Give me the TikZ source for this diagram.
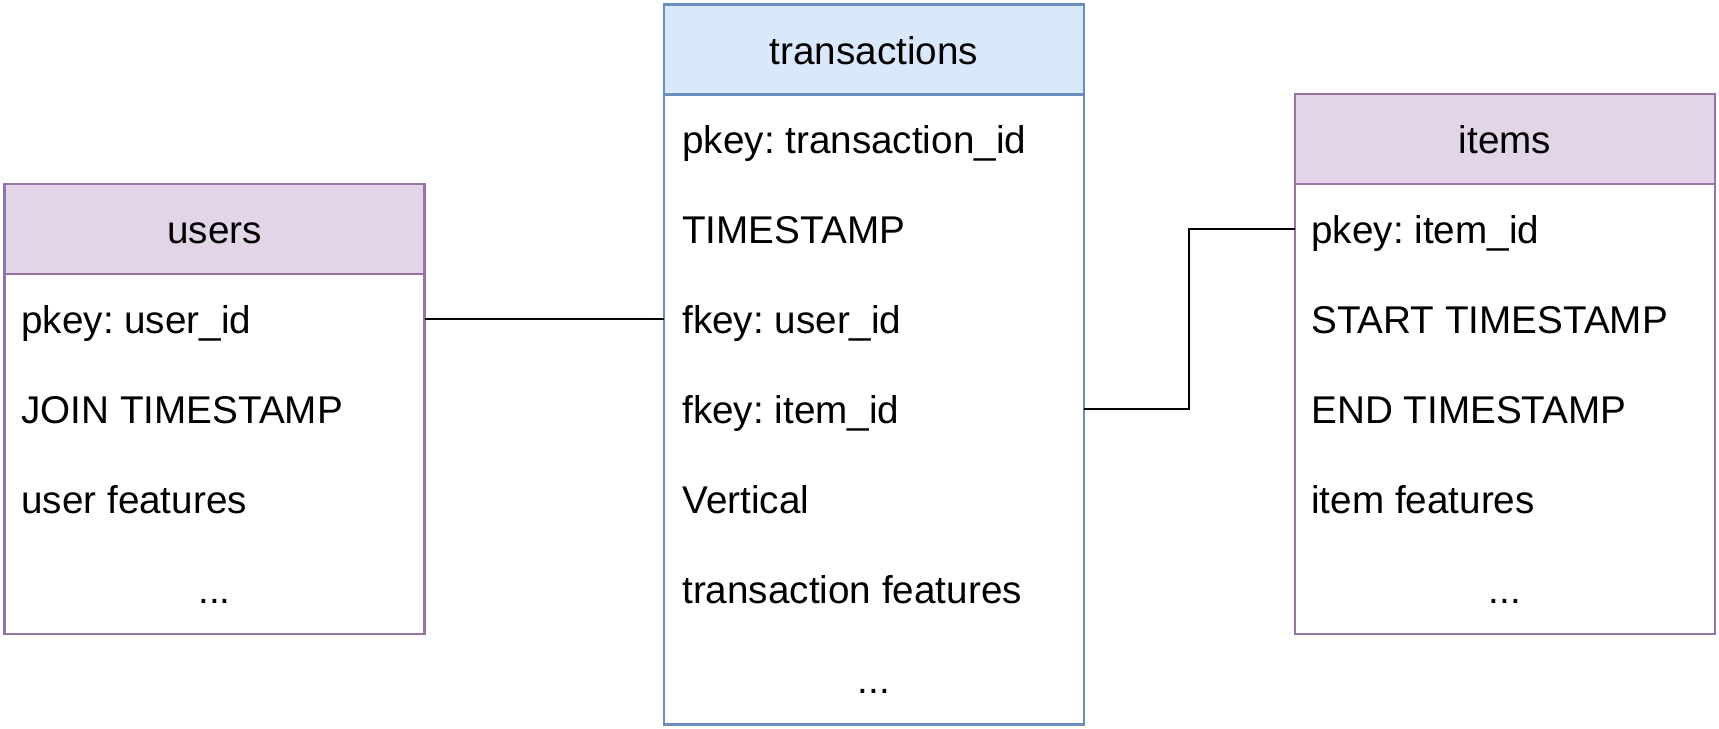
\documentclass[tikz,border=0pt]{standalone}
\usepackage{fontspec}
\setmainfont{Liberation Sans}
\usetikzlibrary{positioning}

\definecolor{purplefill}{HTML}{E1D5E7}
\definecolor{purpleline}{HTML}{9673A6}
\definecolor{bluefill}{HTML}{DAE8FC}
\definecolor{blueline}{HTML}{6C8EBF}

\tikzset{
    tblhead/.style={draw=#1, line width=1.5pt, outer sep=0pt, inner sep=0pt,
        minimum width=8.4cm, minimum height=1.8cm, anchor=north west,
        text height=16.6pt, text depth=0pt},
    field/.style={anchor=west, inner sep=0pt, text height=16.4pt, text depth=0pt},
    more/.style={inner sep=0pt, text height=16.4pt, text depth=0pt},
    link/.style={line width=1.5pt, black},
}

\begin{document}
\frenchspacing
\begin{tikzpicture}[font=\fontsize{22}{26}\selectfont]
    \useasboundingbox (0,0) rectangle (34.38,14.58);

    % users table
    \node[tblhead=purpleline, fill=purplefill] (usershead) at (0.09,10.9) {users};
    \node[draw=purpleline, fill=white, line width=1.5pt, outer sep=0pt, inner sep=0pt,
        minimum width=8.4cm, minimum height=7.2cm, below=0pt of usershead] (usersbody) {};
    \node[field] (upkey) at (0.42,8.2) {pkey: user\_id};
    \node[field] (ujoin) at (0.42,6.4) {JOIN TIMESTAMP};
    \node[field] (ufeat) at (0.42,4.6) {user features};
    \node[more] (umore) at (4.29,2.8) {...};

    % transactions table
    \node[tblhead=blueline, fill=bluefill] (transhead) at (13.28,14.49) {transactions};
    \node[draw=blueline, fill=white, line width=1.5pt, outer sep=0pt, inner sep=0pt,
        minimum width=8.4cm, minimum height=12.6cm, below=0pt of transhead] (transbody) {};
    \node[field] (tpkey) at (13.64,11.8) {pkey: transaction\_id};
    \node[field] (tstamp) at (13.64,10.0) {TIMESTAMP};
    \node[field] (tfkuser) at (13.64,8.2) {fkey: user\_id};
    \node[field] (tfkitem) at (13.64,6.4) {fkey: item\_id};
    \node[field] (tvert) at (13.64,4.6) {Vertical};
    \node[field] (tfeat) at (13.64,2.8) {transaction features};
    \node[more] (tmore) at (17.48,1.0) {...};

    % items table
    \node[tblhead=purpleline, fill=purplefill] (itemshead) at (25.9,12.7) {items};
    \node[draw=purpleline, fill=white, line width=1.5pt, outer sep=0pt, inner sep=0pt,
        minimum width=8.4cm, minimum height=9.0cm, below=0pt of itemshead] (itemsbody) {};
    \node[field] (ipkey) at (26.22,10.0) {pkey: item\_id};
    \node[field] (istart) at (26.22,8.2) {START TIMESTAMP};
    \node[field] (iend) at (26.22,6.4) {END TIMESTAMP};
    \node[field] (ifeat) at (26.22,4.6) {item features};
    \node[more] (imore) at (30.1,2.8) {...};

    % key links
    \draw[link] (usersbody.east |- upkey) -- (transbody.west |- tfkuser);
    \draw[link] (transbody.east |- tfkitem) -- ++(2.1,0) |- (itemsbody.west |- ipkey);

\end{tikzpicture}
\end{document}
